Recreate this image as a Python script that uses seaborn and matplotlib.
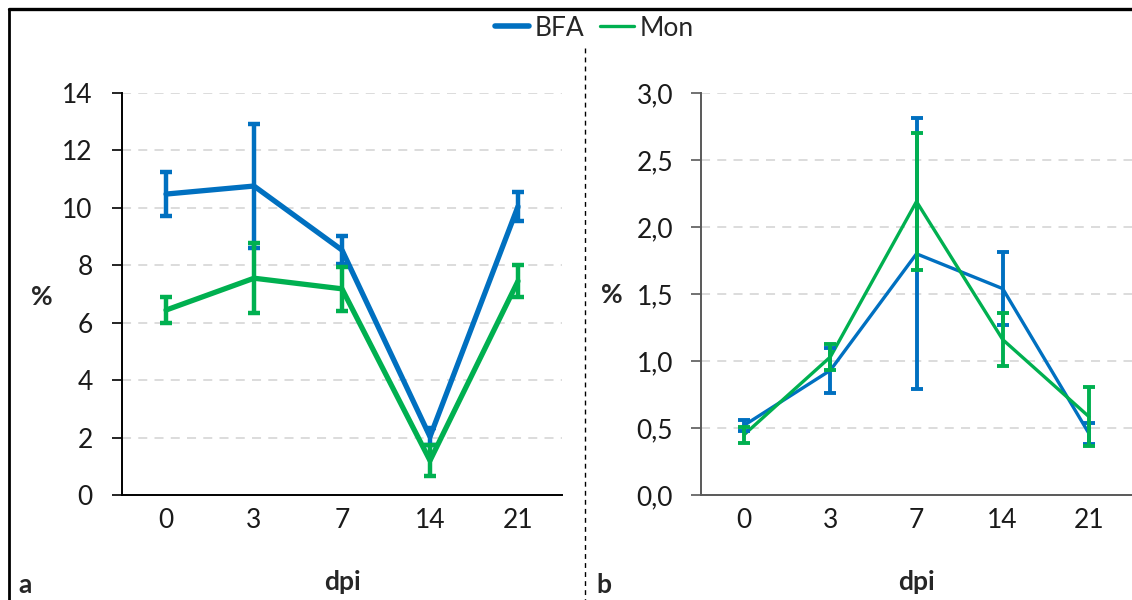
import matplotlib
matplotlib.use("Agg")
import matplotlib.pyplot as plt
from matplotlib.lines import Line2D
from matplotlib.ticker import FuncFormatter
import seaborn as sns
import pandas as pd
import numpy as np

# ---- data ----
dpi_labels = ["0", "3", "7", "14", "21"]
series_names = ["BFA", "Mon"]

a_bfa = [10.48, 10.76, 8.53, 2.03, 10.05]
a_bfa_err = [0.78, 2.16, 0.50, 0.30, 0.50]
a_mon = [6.44, 7.55, 7.18, 1.20, 7.45]
a_mon_err = [0.45, 1.22, 0.76, 0.55, 0.55]

b_bfa = [0.52, 0.93, 1.80, 1.54, 0.46]
b_bfa_err = [0.04, 0.17, 1.01, 0.27, 0.08]
b_mon = [0.45, 1.03, 2.19, 1.16, 0.585]
b_mon_err = [0.06, 0.10, 0.51, 0.20, 0.22]

colors = {"BFA": "#0070C0", "Mon": "#00B050"}

sns.set_theme(style="white")
plt.rcParams["font.family"] = ["Lato", "DejaVu Sans"]

FS = 19

fig = plt.figure(figsize=(11.32, 6.0), dpi=100)
W, H = 1132, 600

def px_axes(x0, x1, ytop, ybot):
    return fig.add_axes([x0 / W, 1 - ybot / H, (x1 - x0) / W, (ybot - ytop) / H])

ax_a = px_axes(122, 562, 93, 495)
ax_b = px_axes(701, 1132, 93, 495)

def make_df(bfa, mon):
    rows = []
    for i, lab in enumerate(dpi_labels):
        rows.append({"pos": i, "dpi": lab, "series": "BFA", "value": bfa[i]})
        rows.append({"pos": i, "dpi": lab, "series": "Mon", "value": mon[i]})
    return pd.DataFrame(rows)

def draw(ax, bfa, bfa_err, mon, mon_err, lw, elw, ymax, ystep, spine_color, fmt, lpad):
    df = make_df(bfa, mon)
    sns.lineplot(data=df, x="pos", y="value", hue="series", palette=colors,
                 hue_order=series_names, linewidth=lw, ax=ax, legend=False,
                 estimator=None, zorder=3)
    x = np.arange(len(dpi_labels))
    ax.errorbar(x, bfa, yerr=bfa_err, fmt="none", ecolor=colors["BFA"],
                elinewidth=elw, capsize=4.5, capthick=elw, zorder=4)
    ax.errorbar(x, mon, yerr=mon_err, fmt="none", ecolor=colors["Mon"],
                elinewidth=elw, capsize=4.5, capthick=elw, zorder=5)
    ax.set_xlim(-0.5, len(dpi_labels) - 0.5)
    ax.set_ylim(0, ymax)
    ticks = np.arange(0, ymax + ystep / 2, ystep)
    ax.set_yticks(ticks)
    ax.yaxis.set_major_formatter(FuncFormatter(fmt))
    ax.set_xticks(x)
    ax.set_xticklabels(dpi_labels)
    for t in ticks[1:]:
        ax.axhline(t, color="#D9D9D9", lw=1.3, ls=(0, (5, 4)), zorder=1)
    for s in ["top", "right"]:
        ax.spines[s].set_visible(False)
    for s in ["left", "bottom"]:
        ax.spines[s].set_color(spine_color)
        ax.spines[s].set_linewidth(1.4)
    ax.tick_params(axis="y", direction="out", length=7, width=1.2, color=spine_color,
                   labelsize=FS, pad=lpad, left=True, labelcolor="#1a1a1a")
    ax.tick_params(axis="x", length=0, labelsize=FS, pad=9, labelcolor="#1a1a1a")
    ax.set_xlabel("")
    ax.set_ylabel("")
    ax.set_facecolor("none")

draw(ax_a, a_bfa, a_bfa_err, a_mon, a_mon_err, 3.8, 3.2, 14, 2, "black",
     lambda v, p: f"{v:.0f}", 14)
draw(ax_b, b_bfa, b_bfa_err, b_mon, b_mon_err, 2.4, 2.8, 3.0, 0.5, "#595959",
     lambda v, p: f"{v:.1f}".replace(".", ","), 13)

# axis titles
fig.text(42 / W, 1 - 297 / H, "%", ha="center", va="center", fontsize=FS, fontweight="bold")
fig.text(612 / W, 1 - 295 / H, "%", ha="center", va="center", fontsize=FS, fontweight="bold")
fig.text(342 / W, 1 - 582 / H, "dpi", ha="center", va="center", fontsize=FS, fontweight="bold")
fig.text(916 / W, 1 - 582 / H, "dpi", ha="center", va="center", fontsize=FS, fontweight="bold")
fig.text(25 / W, 1 - 585 / H, "a", ha="center", va="center", fontsize=FS, fontweight="bold")
fig.text(604 / W, 1 - 585 / H, "b", ha="center", va="center", fontsize=FS, fontweight="bold")

# frame and divider
fig.add_artist(Line2D([9 / W, 1], [1 - 9 / H, 1 - 9 / H], color="black", lw=2.4,
                      transform=fig.transFigure))
fig.add_artist(Line2D([9 / W, 9 / W], [1 - 9 / H, 0], color="black", lw=2.0,
                      transform=fig.transFigure))
fig.add_artist(Line2D([585 / W, 585 / W], [1 - 48 / H, 0], color="black", lw=1.0,
                      ls=(0, (3.5, 3)), transform=fig.transFigure))

# legend
handles = [Line2D([], [], color=colors["BFA"], lw=4.0),
           Line2D([], [], color=colors["Mon"], lw=2.4)]
fig.legend(handles, series_names, loc="center", bbox_to_anchor=(0.525, 1 - 28 / H),
           ncol=2, frameon=False, fontsize=FS, handlelength=1.3, handletextpad=0.2,
           columnspacing=0.6, borderpad=0.1)

fig.savefig("out.png", dpi=100, facecolor="white")
